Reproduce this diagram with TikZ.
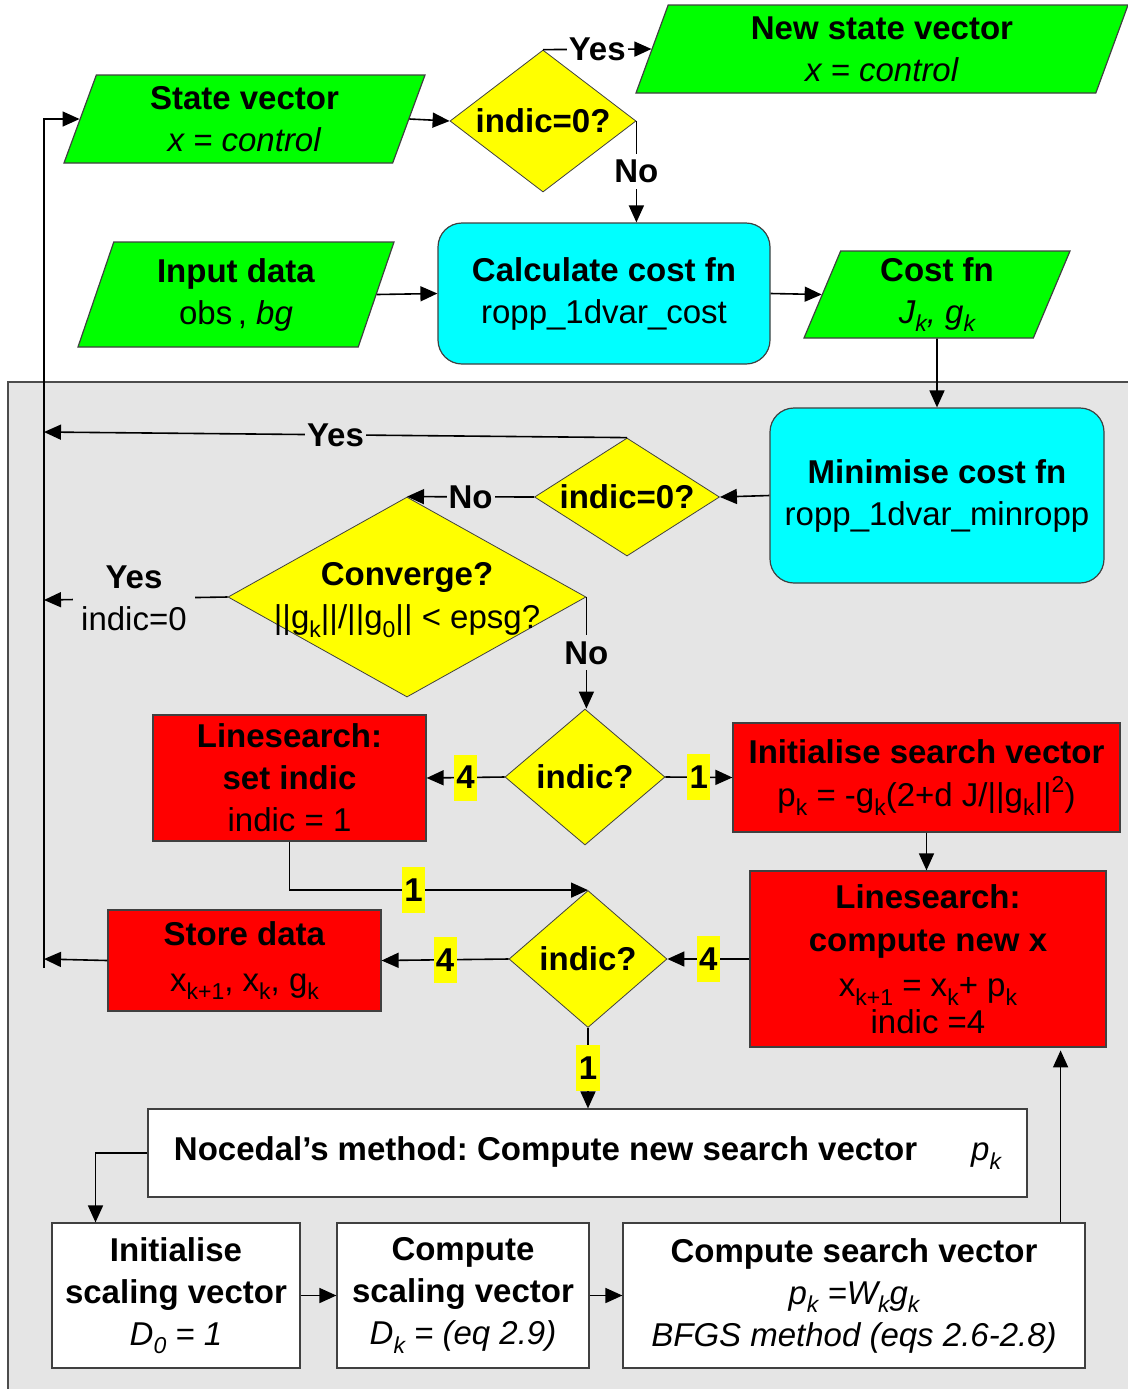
\documentclass[tikz,border=0pt]{standalone}
\usepackage{fontspec}
\setmainfont{Liberation Sans}
\usepackage{tikz}
\usetikzlibrary{shapes.geometric,arrows.meta,calc}

\definecolor{pgreen}{RGB}{0,255,0}
\definecolor{pcyan}{RGB}{0,255,255}
\definecolor{pred}{RGB}{255,0,0}
\definecolor{pyellow}{RGB}{255,255,0}
\definecolor{panel}{RGB}{229,229,229}

\newcommand{\lo}[1]{\raisebox{-0.5ex}{\fontsize{11.5}{11.5}\selectfont #1}}
\newcommand{\hi}[1]{\raisebox{0.8ex}{\fontsize{11.5}{11.5}\selectfont #1}}

\tikzset{
  base/.style={draw=black!75, line width=0.6pt, align=center, inner sep=1pt, font=\fontsize{16.5}{21}\selectfont},
  para/.style={base, trapezium, trapezium left angle=65, trapezium right angle=115, trapezium stretches body, fill=pgreen},
  cbox/.style={base, rectangle, rounded corners=12pt, fill=pcyan},
  rbox/.style={base, rectangle, fill=pred},
  wbox/.style={base, rectangle, fill=white},
  test/.style={base, diamond, fill=pyellow, line width=0.4pt, inner sep=0pt},
  arr/.style={-{Triangle[length=8.5pt,width=7.5pt]}, line width=0.8pt},
  lbl/.style={font=\bfseries\fontsize{16.5}{21}\selectfont, fill=white, inner xsep=1pt, inner ysep=3pt},
  lblg/.style={lbl, fill=panel},
  num/.style={font=\bfseries\fontsize{16.5}{21}\selectfont, fill=pyellow, inner xsep=1.2pt, inner ysep=0pt, minimum height=23pt},
}

\begin{document}
\frenchspacing
\begin{tikzpicture}[x=0.5pt,y=-0.5pt]
  % Frame and grey panel
  \useasboundingbox (0,0) rectangle (1128,1389);
  \fill[panel] (8,382) rectangle (1128,1389);
  \draw[black!70,line width=0.8pt] (8,1389) -- (8,382) -- (1128,382);
  \def\railx{44}
  % Top part
  \node[para, minimum width=180.5pt, minimum height=44pt] (sv) at (244.5,119) {\textbf{State vector}\\\textit{x = control}};
  \node[test, aspect=1.3, minimum width=93pt, minimum height=71pt] (d0) at (543,121) {\textbf{indic=0?}};
  \node[para, minimum width=246pt, minimum height=44pt] (nsv) at (882,49) {\textbf{New state vector}\\\textit{x = control}};
  \node[para, minimum width=158pt, minimum height=52.5pt] (inp) at (236,294.5) {\textbf{Input data}\\obs\,, \textit{bg}};
  \node[cbox, minimum width=166pt, minimum height=70.5pt] (calc) at (604,293.5) {\textbf{Calculate cost fn}\\ropp\_1dvar\_cost};
  \node[para, minimum width=133pt, minimum height=43.5pt] (cost) at (937,294.5) {\textbf{Cost fn}\\\textit{J\lo{k}, g\lo{k}}};
  % Minimiser
  \node[cbox, minimum width=167pt, minimum height=87.5pt] (mini) at (937,495.5) {\textbf{Minimise cost fn}\\ropp\_1dvar\_minropp};
  \node[test, aspect=1.6, minimum width=92.5pt, minimum height=59pt] (d1) at (627,497) {\textbf{indic=0?}};
  \node[test, minimum width=179pt, minimum height=100pt] (conv) at (407,597) {};
  \node[align=center, font=\fontsize{16.5}{21}\selectfont, inner sep=0pt] (convtxt) at (407,600) {\textbf{Converge?}\\[0.5pt]||g\lo{k}||/||g\lo{0}|| < epsg?};
  \node[test, aspect=1.17, minimum width=80pt, minimum height=68pt] (d2) at (585,777) {\textbf{indic?}};
  \node[rbox, minimum width=136.5pt, minimum height=63pt] (setind) at (289.5,778) {\textbf{Linesearch:}\\\textbf{set indic}\\indic = 1};
  \node[rbox, minimum width=193.5pt, minimum height=54.5pt] (initsv) at (926.5,777.5) {\textbf{Initialise search vector}\\[0.5pt]p\lo{k} = -g\lo{k}(2+d J/||g\lo{k}||\hi{2})};
  \node[rbox, minimum width=178pt, minimum height=88pt] (newx) at (928,959) {\textbf{Linesearch:}\\[0.5pt]\textbf{compute new x}\\[1.5pt]x\lo{k+1} = x\lo{k}+ p\lo{k}\\[-2.5pt]indic =4};
  \node[test, aspect=1.17, minimum width=79pt, minimum height=68.5pt] (d3) at (588,959) {\textbf{indic?}};
  \node[rbox, minimum width=136.5pt, minimum height=50.5pt] (store) at (244.5,960.5) {\textbf{Store data}\\[2pt]x\lo{k+1}, x\lo{k}, g\lo{k}};
  % Nocedal
  \node[wbox, minimum width=439.5pt, minimum height=44pt] (noce) at (587.5,1153) {\textbf{Nocedal’s method: Compute new search vector}\hspace{27pt}\textit{p\lo{k}}};
  \node[wbox, minimum width=124pt, minimum height=72.5pt] (initsc) at (176,1295.5) {\textbf{Initialise}\\\textbf{scaling vector}\\\textit{D\lo{0} = 1}};
  \node[wbox, minimum width=126pt, minimum height=72.5pt] (compsc) at (463,1295.5) {\textbf{Compute}\\\textbf{scaling vector}\\\textit{D\lo{k} = (eq 2.9)}};
  \node[wbox, minimum width=231pt, minimum height=72.5pt] (compsv) at (854,1295.5) {\textbf{Compute search vector}\\\textit{p\lo{k} =W\lo{k}g\lo{k}}\\\textit{BFGS method (eqs 2.6-2.8)}};
  % Rail coordinates
  \coordinate (rbot) at (\railx,968);
  \coordinate (r1) at (\railx,432);
  \coordinate (r2) at (\railx,600);
  \coordinate (r3) at (\railx,959);
  % Connectors
  \draw[arr] (sv.right side) -- (d0.west);
  \draw[arr] (d0.north) -- node[lbl]{Yes} (nsv.left side);
  \draw[arr] (d0.east) -- node[lbl]{No} (d0.east |- calc.north);
  \draw[arr] (inp.right side) -- (calc.west);
  \draw[arr] (calc.east) -- (cost.left side);
  \draw[arr] (cost.south) -- (mini.north);
  \draw[arr] (mini.west) -- (d1.east);
  \draw[arr] (d1.north) -- node[lblg]{Yes} (r1);
  \draw[arr] (d1.west) -- node[lblg]{No} (conv.north);
  \draw[arr] (conv.west) -- node[lblg, inner xsep=4pt, align=center, pos=0.51]{Yes\\\mdseries indic=0} (r2);
  \draw[arr] (conv.east) -- node[lblg]{No} (conv.east |- d2.north);
  \draw[arr] (d2.west) -- node[num]{4} (setind.east);
  \draw[arr] (d2.east) -- node[num]{1} (initsv.west);
  \draw[arr] (initsv.south) -- (initsv.south |- newx.north);
  \draw[arr] (newx.west) -- node[num]{4} (d3.east);
  \draw[arr] (setind.south) |- node[num, pos=0.708]{1} (d3.north);
  \draw[arr] (d3.west) -- node[num]{4} (store.east);
  \draw[arr] (d3.south) -- node[num]{1} (d3.south |- noce.north);
  \draw[arr] (store.west) -- (r3);
  \draw[arr] (rbot) |- (sv.left side);
  \draw[arr] (noce.west) -| ($(initsc.north west)!0.177!(initsc.north east)$);
  \foreach \a/\b in {initsc/compsc,compsc/compsv} {\draw[arr] (\a.east) -- (\b.west);}
  \draw[arr] ($(compsv.north west)!0.946!(compsv.north east)$) -- ++(0,-172);
\end{tikzpicture}
\end{document}
